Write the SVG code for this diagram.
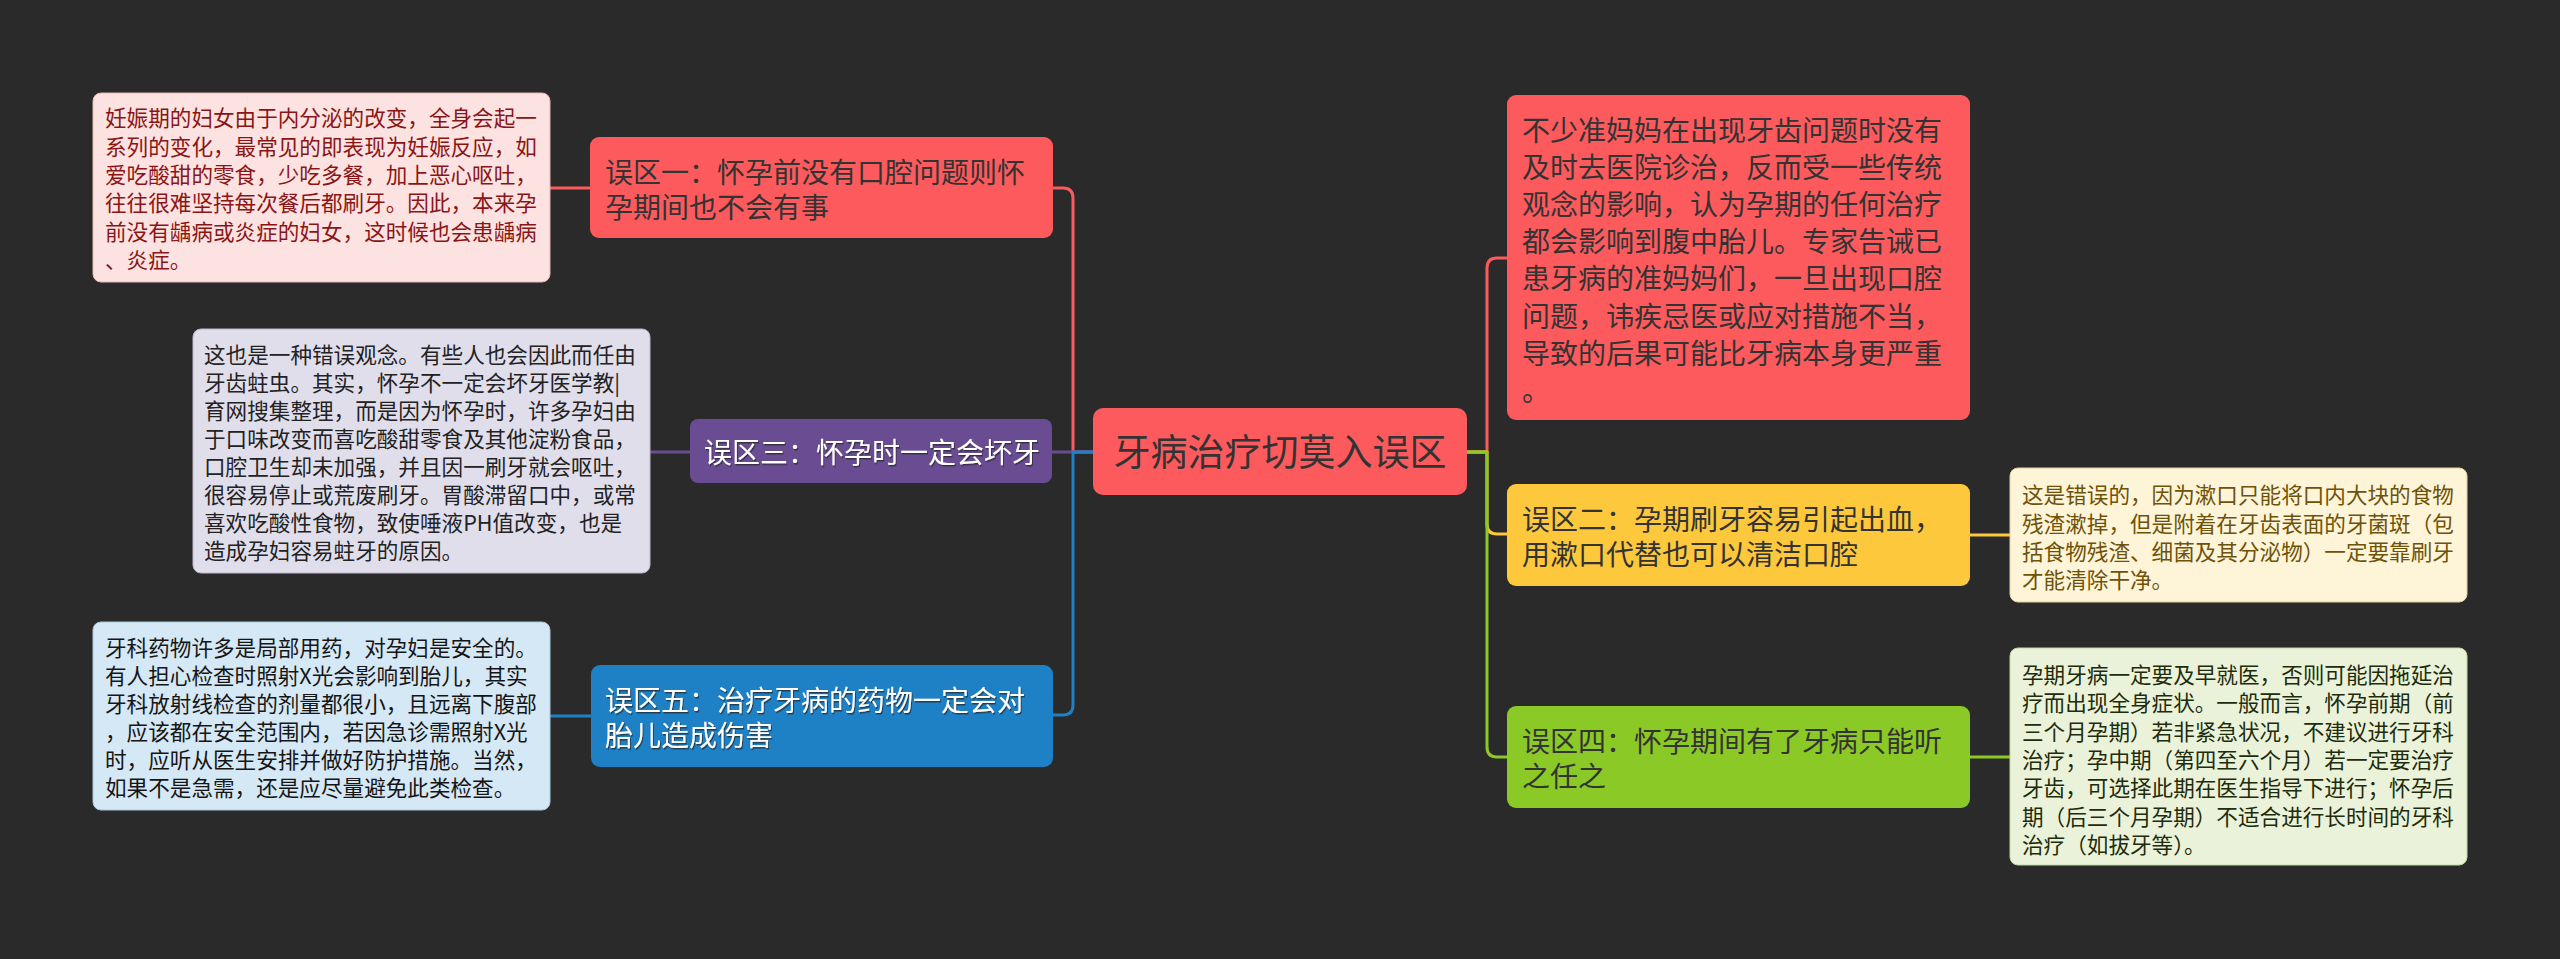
<svg xmlns="http://www.w3.org/2000/svg" width="2560" height="959" viewBox="0 0 2560 959">
<defs>
<filter id="ts" x="-5%" y="-20%" width="110%" height="140%"><feDropShadow dx="1" dy="1.5" stdDeviation="0.6" flood-color="#222" flood-opacity="0.7"/></filter>
</defs>
<style>
text{font-family:"Noto Sans CJK SC","Noto Sans",sans-serif;}
.main{font-size:28px;}
.det{font-size:21.6px;}
.center{font-size:37px;fill:#333;}
.con{fill:none;stroke-width:3;stroke-linecap:round;stroke-linejoin:round;}
.red{fill:#FC5A5D;}
.dark{fill:#333333;}
.white{fill:#ffffff;}
</style>
<rect x="0" y="0" width="2560" height="959" fill="#2A2A2A"/>
<g id="connectors">
<path class="con" stroke="#FC5A5D" d="M1093 452 H1073 V198 Q1073 188 1063 188 H1053"/>
<path class="con" stroke="#6A4C93" d="M1093 452 H1052"/>
<path class="con" stroke="#1E80C5" d="M1093 452 H1073 V705 Q1073 715 1063 715 H1053"/>
<path class="con" stroke="#FC5A5D" d="M590 188 H550"/>
<path class="con" stroke="#6A4C93" d="M690 452 H650"/>
<path class="con" stroke="#1E80C5" d="M591 716 H550"/>
<path class="con" stroke="#FC5A5D" d="M1467 452 H1487 V268 Q1487 258 1497 258 H1507"/>
<path class="con" stroke="#FEC83C" d="M1467 452 H1487 V524 Q1487 534 1497 534 H1507"/>
<path class="con" stroke="#8BC926" d="M1467 452 H1487 V747 Q1487 757 1497 757 H1507"/>
<path class="con" stroke="#FEC83C" d="M1970 535 H2010"/>
<path class="con" stroke="#8BC926" d="M1970 757 H2010"/>
</g>
<g id="center">
<rect x="1093" y="408" width="374" height="87" rx="10" fill="#FC5A5D"/>
<text class="center" x="1280" y="466" text-anchor="middle">牙病治疗切莫入误区</text>
</g>
<g id="n1">
<rect x="590" y="137" width="463" height="101" rx="9" fill="#FC5A5D"/>
<text class="main dark" x="605" y="183">误区一：怀孕前没有口腔问题则怀</text>
<text class="main dark" x="605" y="218">孕期间也不会有事</text>
</g>
<g id="n1d">
<rect x="93" y="93" width="457" height="189" rx="8" fill="#FDE2E2" stroke="#E9B5B5" stroke-width="1"/>
<g class="det" fill="#8A1515">
<text x="105" y="126">妊娠期的妇女由于内分泌的改变，全身会起一</text>
<text x="105" y="154.5">系列的变化，最常见的即表现为妊娠反应，如</text>
<text x="105" y="183">爱吃酸甜的零食，少吃多餐，加上恶心呕吐，</text>
<text x="105" y="211">往往很难坚持每次餐后都刷牙。因此，本来孕</text>
<text x="105" y="239.5">前没有龋病或炎症的妇女，这时候也会患龋病</text>
<text x="105" y="268">、炎症。</text>
</g>
</g>
<g id="n3">
<rect x="690" y="419" width="362" height="64" rx="8" fill="#6A4C93"/>
<text class="main white" x="704" y="463" filter="url(#ts)">误区三：怀孕时一定会坏牙</text>
</g>
<g id="n3d">
<rect x="193" y="329" width="457" height="244" rx="8" fill="#E1DEEC" stroke="#BDB7CF" stroke-width="1"/>
<g class="det" fill="#222">
<text x="204" y="363">这也是一种错误观念。有些人也会因此而任由</text>
<text x="204" y="391">牙齿蛀虫。其实，怀孕不一定会坏牙医学教|</text>
<text x="204" y="419">育网搜集整理，而是因为怀孕时，许多孕妇由</text>
<text x="204" y="447">于口味改变而喜吃酸甜零食及其他淀粉食品，</text>
<text x="204" y="475">口腔卫生却未加强，并且因一刷牙就会呕吐，</text>
<text x="204" y="503">很容易停止或荒废刷牙。胃酸滞留口中，或常</text>
<text x="204" y="531">喜欢吃酸性食物，致使唾液PH值改变，也是</text>
<text x="204" y="559">造成孕妇容易蛀牙的原因。</text>
</g>
</g>
<g id="n5">
<rect x="591" y="665" width="462" height="102" rx="9" fill="#1E80C5"/>
<text class="main white" x="605" y="711" filter="url(#ts)">误区五：治疗牙病的药物一定会对</text>
<text class="main white" x="605" y="746" filter="url(#ts)">胎儿造成伤害</text>
</g>
<g id="n5d">
<rect x="93" y="622" width="457" height="188" rx="8" fill="#D5E8F5" stroke="#A9C7DC" stroke-width="1"/>
<g class="det" fill="#151515">
<text x="105" y="656">牙科药物许多是局部用药，对孕妇是安全的。</text>
<text x="105" y="684">有人担心检查时照射X光会影响到胎儿，其实</text>
<text x="105" y="712">牙科放射线检查的剂量都很小，且远离下腹部</text>
<text x="105" y="740">，应该都在安全范围内，若因急诊需照射X光</text>
<text x="105" y="768">时，应听从医生安排并做好防护措施。当然，</text>
<text x="105" y="796">如果不是急需，还是应尽量避免此类检查。</text>
</g>
</g>
<g id="n0">
<rect x="1507" y="95" width="463" height="325" rx="9" fill="#FC5A5D"/>
<g class="main dark">
<text x="1522" y="140.5">不少准妈妈在出现牙齿问题时没有</text>
<text x="1522" y="177.7">及时去医院诊治，反而受一些传统</text>
<text x="1522" y="214.9">观念的影响，认为孕期的任何治疗</text>
<text x="1522" y="252.1">都会影响到腹中胎儿。专家告诫已</text>
<text x="1522" y="289.3">患牙病的准妈妈们，一旦出现口腔</text>
<text x="1522" y="326.5">问题，讳疾忌医或应对措施不当，</text>
<text x="1522" y="363.7">导致的后果可能比牙病本身更严重</text>
<text x="1522" y="400.9">。</text>
</g>
</g>
<g id="n2">
<rect x="1507" y="484" width="463" height="102" rx="9" fill="#FEC83C"/>
<text class="main dark" x="1522" y="530">误区二：孕期刷牙容易引起出血，</text>
<text class="main dark" x="1522" y="565">用漱口代替也可以清洁口腔</text>
</g>
<g id="n2d">
<rect x="2010" y="468" width="457" height="134" rx="8" fill="#FEF4D8" stroke="#E2D1A0" stroke-width="1"/>
<g class="det" fill="#6E5208">
<text x="2022" y="503">这是错误的，因为漱口只能将口内大块的食物</text>
<text x="2022" y="531.5">残渣漱掉，但是附着在牙齿表面的牙菌斑（包</text>
<text x="2022" y="560">括食物残渣、细菌及其分泌物）一定要靠刷牙</text>
<text x="2022" y="588">才能清除干净。</text>
</g>
</g>
<g id="n4">
<rect x="1507" y="706" width="463" height="102" rx="9" fill="#8BC926"/>
<text class="main dark" x="1522" y="752">误区四：怀孕期间有了牙病只能听</text>
<text class="main dark" x="1522" y="787">之任之</text>
</g>
<g id="n4d">
<rect x="2010" y="648" width="457" height="217" rx="8" fill="#EAF3D9" stroke="#C4D6A4" stroke-width="1"/>
<g class="det" fill="#1E2B0C">
<text x="2022" y="683">孕期牙病一定要及早就医，否则可能因拖延治</text>
<text x="2022" y="711.3">疗而出现全身症状。一般而言，怀孕前期（前</text>
<text x="2022" y="739.6">三个月孕期）若非紧急状况，不建议进行牙科</text>
<text x="2022" y="767.9">治疗；孕中期（第四至六个月）若一定要治疗</text>
<text x="2022" y="796.2">牙齿，可选择此期在医生指导下进行；怀孕后</text>
<text x="2022" y="824.5">期（后三个月孕期）不适合进行长时间的牙科</text>
<text x="2022" y="852.8">治疗（如拔牙等）。</text>
</g>
</g>
</svg>
